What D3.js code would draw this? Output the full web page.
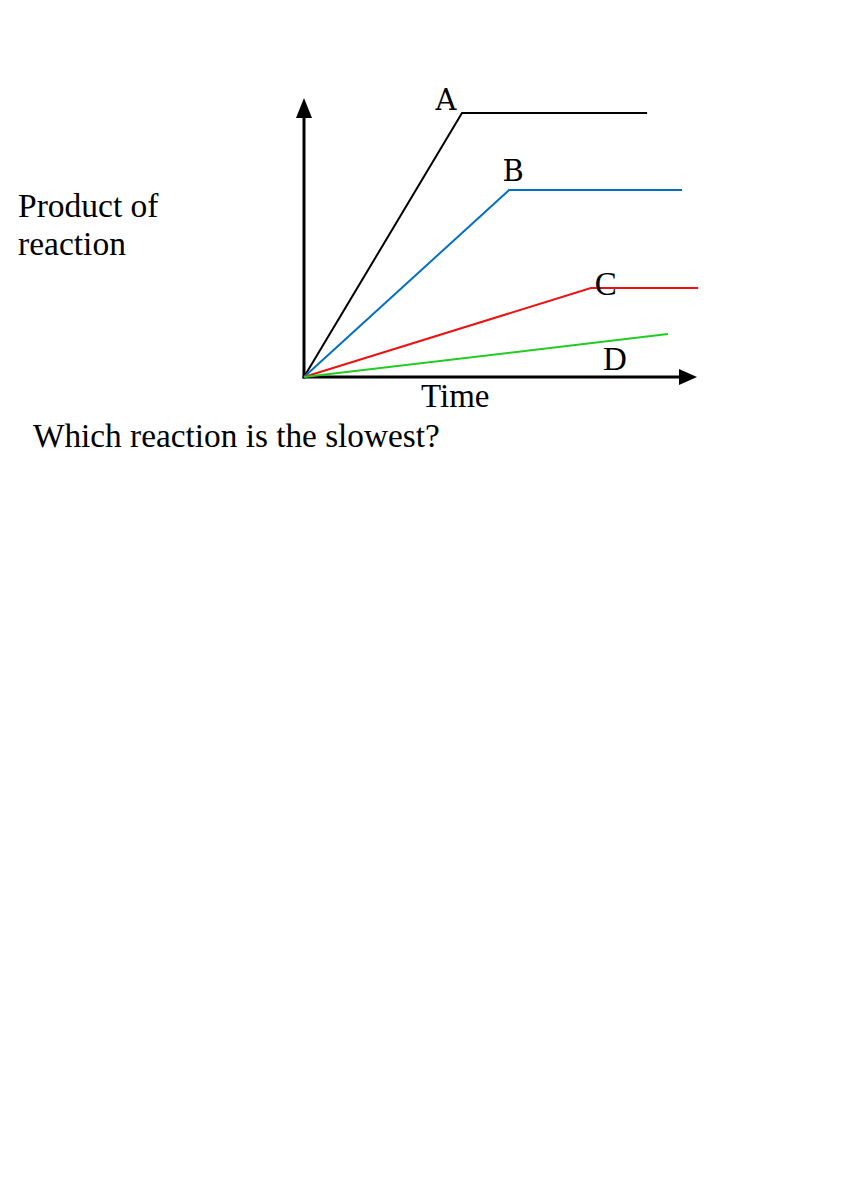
<!DOCTYPE html>
<html>
<head>
<meta charset="utf-8">
<script src="https://cdn.jsdelivr.net/npm/d3@7"></script>
<style>
  html, body { margin: 0; padding: 0; background: #fff; }
  svg { display: block; }
</style>
</head>
<body>
<svg id="chart" width="866" height="1180"></svg>
<script>
// Data (time units, product units)
const seriesNames = ["A", "B", "C", "D"];
const seriesA = [[0, 0], [40.2, 94.6], [87.3, 94.6]];
const seriesB = [[0, 0], [52.2, 67.0], [96.2, 67.0]];
const seriesC = [[0, 0], [73.0, 31.9], [100.3, 31.9]];
const seriesD = [[0, 0], [92.6, 15.4]];
const seriesColors = ["#000000", "#0070C0", "#EE1111", "#22CC22"];
const labelPos = [[36.1, 95.7], [53.2, 70.3], [74.0, 29.4], [76.1, 2.5]];
const yLabelLines = ["Product of", "reaction"];
const xLabel = "Time";
const question = "Which reaction is the slowest?";

const svg = d3.select("#chart");
const x = d3.scaleLinear().domain([0, 100]).range([304, 697]);
const y = d3.scaleLinear().domain([0, 100]).range([377, 98]);

// axes
const axisColor = "#000";
svg.append("line").attr("x1", x(0)).attr("y1", y(0) + 1.5).attr("x2", x(0)).attr("y2", 116)
  .attr("stroke", axisColor).attr("stroke-width", 3);
svg.append("path").attr("d", `M${x(0)},${y(100)} L${x(0) - 8},118 L${x(0) + 8},118 Z`).attr("fill", axisColor);
svg.append("line").attr("x1", x(0) - 1.5).attr("y1", y(0)).attr("x2", 680).attr("y2", y(0))
  .attr("stroke", axisColor).attr("stroke-width", 3);
svg.append("path").attr("d", `M${x(100)},${y(0)} L679,${y(0) - 8} L679,${y(0) + 8} Z`).attr("fill", axisColor);

// series
const line = d3.line().x(d => x(d[0])).y(d => y(d[1]));
const allSeries = [seriesA, seriesB, seriesC, seriesD];
allSeries.forEach((s, i) => {
  svg.append("path").attr("d", line(s)).attr("fill", "none")
    .attr("stroke", seriesColors[i]).attr("stroke-width", 2);
});

// series labels
const labelFonts = ["DejaVu Serif", "DejaVu Serif", "Liberation Serif", "Liberation Serif"];
const labelSizes = [29, 29, 33, 33];
const labelAnchors = ["middle", "middle", "start", "start"];
seriesNames.forEach((n, i) => {
  svg.append("text").attr("x", x(labelPos[i][0])).attr("y", y(labelPos[i][1]))
    .attr("font-family", labelFonts[i]).attr("font-size", labelSizes[i])
    .attr("text-anchor", labelAnchors[i])
    .attr("fill", "#000").text(n);
});

// axis titles
yLabelLines.forEach((t, i) => {
  svg.append("text").attr("x", 18).attr("y", 217 + i * 38)
    .attr("font-family", "Liberation Serif").attr("font-size", 33.5).attr("fill", "#000").text(t);
});
svg.append("text").attr("x", 421).attr("y", 407)
  .attr("font-family", "Liberation Serif").attr("font-size", 33).attr("fill", "#000").text(xLabel);
svg.append("text").attr("x", 33).attr("y", 447)
  .attr("font-family", "Liberation Serif").attr("font-size", 33.3).attr("fill", "#000").text(question);
</script>
</body>
</html>
